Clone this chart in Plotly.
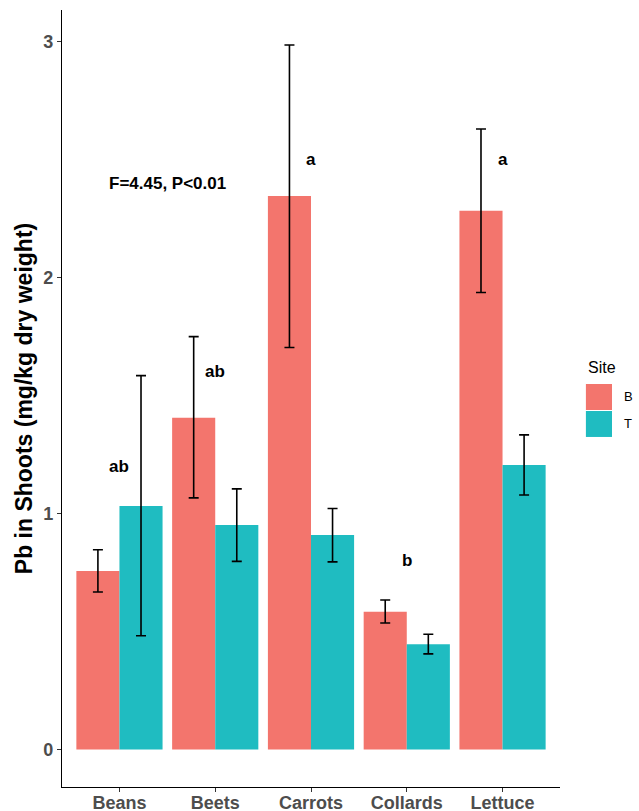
import plotly.graph_objects as go

# Lead in shoots by crop and site: means with lower/upper error limits
crops = ["Beans", "Beets", "Carrots", "Collards", "Lettuce"]
site_b_mean = [0.756, 1.405, 2.345, 0.583, 2.282]
site_b_upper = [0.846, 1.749, 2.985, 0.633, 2.629]
site_b_lower = [0.667, 1.066, 1.703, 0.536, 1.936]
site_t_mean = [1.032, 0.951, 0.909, 0.446, 1.205]
site_t_upper = [1.584, 1.104, 1.021, 0.488, 1.333]
site_t_lower = [0.482, 0.797, 0.795, 0.405, 1.078]

# Post-hoc group letters placed above each crop
letters = ["ab", "ab", "a", "b", "a"]
letter_y = [1.2, 1.6, 2.5, 0.8, 2.5]

sites = ["B", "T"]
colors = {"B": "#F3756D", "T": "#1FBCC1"}

FONT = "Liberation Sans, Arial, Helvetica, sans-serif"

fig = go.Figure()
for site, mean, upper, lower in [
    ("B", site_b_mean, site_b_upper, site_b_lower),
    ("T", site_t_mean, site_t_upper, site_t_lower),
]:
    fig.add_trace(go.Bar(
        x=crops, y=mean, name=site,
        marker=dict(color=colors[site], line=dict(width=0)),
        error_y=dict(
            type="data", symmetric=False,
            array=[u - m for u, m in zip(upper, mean)],
            arrayminus=[m - l for m, l in zip(mean, lower)],
            color="black", thickness=1.6, width=5,
        ),
        showlegend=False,
    ))

for crop, lab, ly in zip(crops, letters, letter_y):
    fig.add_annotation(x=crop, y=ly, text=lab, showarrow=False,
                       font=dict(family=FONT, size=17, color="black", weight="bold"))

fig.add_annotation(x=0.5, y=2.4, text="F=4.45, P<0.01", showarrow=False,
                   font=dict(family=FONT, size=17, color="black", weight="bold"))

# Legend drawn as key squares with labels
fig.add_annotation(xref="paper", yref="paper", x=1.052, y=0.5405, text="Site",
                   showarrow=False, xanchor="left", yanchor="middle",
                   font=dict(family=FONT, size=16, color="black"))
key_rows = [(0.5187, 0.4852), (0.4839, 0.4505)]
for site, (y_top, y_bot) in zip(sites, key_rows):
    fig.add_shape(type="rect", xref="paper", yref="paper",
                  x0=1.052, x1=1.1044, y0=y_bot, y1=y_top,
                  fillcolor=colors[site], line=dict(width=0))
    fig.add_annotation(xref="paper", yref="paper", x=1.1245, y=(y_top + y_bot) / 2,
                       text=site, showarrow=False, xanchor="left", yanchor="middle",
                       font=dict(family=FONT, size=13, color="black"))

fig.update_layout(
    width=639, height=811,
    margin=dict(l=62, r=79, t=10, b=24),
    plot_bgcolor="white", paper_bgcolor="white",
    barmode="group", bargap=0.1, bargroupgap=0,
    font=dict(family=FONT),
)
fig.update_xaxes(
    range=[-0.6, 4.6], showline=True, linecolor="black", linewidth=1.2,
    ticks="outside", ticklen=4, tickcolor="#333333", tickwidth=1.1,
    ticklabelstandoff=-5,
    tickfont=dict(family=FONT, size=18, color="#4D4D4D", weight="bold"),
    showgrid=False, zeroline=False, automargin=False,
)
fig.update_yaxes(
    range=[-0.159, 3.133], showline=True, linecolor="black", linewidth=1.2,
    ticks="outside", ticklen=4, tickcolor="#333333", tickwidth=1.1,
    tickvals=[0, 1, 2, 3],
    tickfont=dict(family=FONT, size=18, color="#4D4D4D", weight="bold"),
    title=dict(text="Pb in Shoots (mg/kg dry weight)", standoff=4,
               font=dict(family=FONT, size=23, color="black", weight="bold")),
    showgrid=False, zeroline=False, automargin=False,
)

fig.write_html("out.html")
